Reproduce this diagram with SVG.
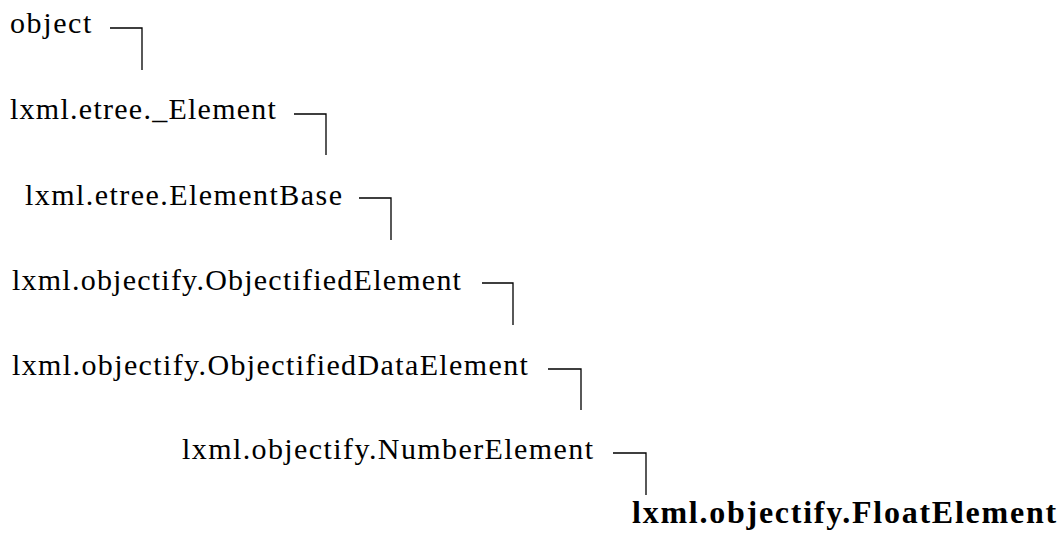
<svg xmlns="http://www.w3.org/2000/svg" width="1063" height="534" viewBox="0 0 1063 534">
<style>
.c{fill:none;stroke:#000;stroke-width:1.3}
</style>
<rect width="1063" height="534" fill="#fff"/>
<g id="n1"><text x="10" y="33" font-family="Liberation Serif" font-size="30" letter-spacing="1.6">object</text></g>
<g id="n2"><text x="10" y="119" font-family="Liberation Serif" font-size="30" letter-spacing="1.26">lxml.etree._Element</text></g>
<g id="n3"><text x="25" y="205" font-family="Liberation Serif" font-size="30" letter-spacing="1.45">lxml.etree.ElementBase</text></g>
<g id="n4"><text x="12" y="290" font-family="Liberation Serif" font-size="30" letter-spacing="1.23">lxml.objectify.ObjectifiedElement</text></g>
<g id="n5"><text x="12" y="375" font-family="Liberation Serif" font-size="30" letter-spacing="1.38">lxml.objectify.ObjectifiedDataElement</text></g>
<g id="n6"><text x="182" y="459" font-family="Liberation Serif" font-size="30" letter-spacing="1.41">lxml.objectify.NumberElement</text></g>
<g id="n7"><text x="632" y="523" font-family="Liberation Serif" font-size="32" font-weight="bold" letter-spacing="1.75">lxml.objectify.FloatElement</text></g>
<g id="connectors">
<path class="c" d="M110,28H142V70"/>
<path class="c" d="M294,114H326V155"/>
<path class="c" d="M359,198H391V240"/>
<path class="c" d="M482,283H513V325"/>
<path class="c" d="M548,369H581V410"/>
<path class="c" d="M613,453H646V495"/>
</g>
</svg>
